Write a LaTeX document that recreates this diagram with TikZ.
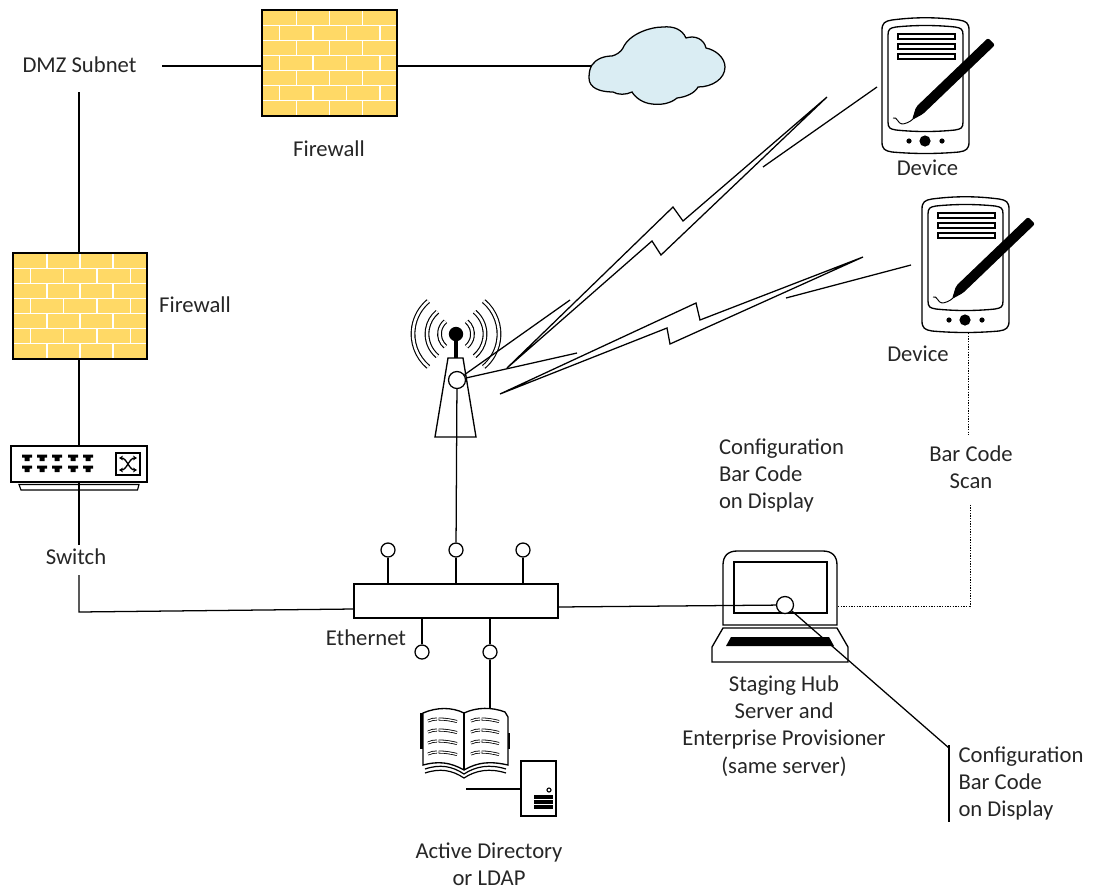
\documentclass[tikz,border=0pt]{standalone}
\usepackage{fontspec}
\setmainfont{Carlito}
\usetikzlibrary{arrows.meta}
\definecolor{brick}{HTML}{FFD966}
\definecolor{cloudblue}{HTML}{DAEDF3}
\tikzset{
  ln/.style={draw=black,line width=0.95pt},
  lbl/.style={font=\fontsize{17}{20.4}\selectfont,text=black!85,inner sep=0pt,align=center},
  lbll/.style={lbl,align=left},
  port/.style={circle,draw=black,line width=0.95pt,fill=white,inner sep=0pt,minimum size=10.5pt},
  bigport/.style={port,minimum size=12.75pt},
  wave/.style={draw=black,line width=0.85pt,double=white,double distance=1.9pt},
  fw/.style={rectangle,draw=black,line width=1.1pt,fill=brick,inner sep=0pt},
  dot/.style={draw=black,line width=0.75pt,dash pattern=on 1pt off 1pt},
  thinbox/.style={draw=black,line width=0.85pt},
}
\newcommand{\bricks}[4]{% x0 y0 w h
  \foreach \r in {1,...,6}{
    \draw[white,line width=0.95pt] (#1,{#2+#4*\r/7}) -- ({#1+#3},{#2+#4*\r/7});}
  \foreach \r in {0,2,4,6}{
    \foreach \f in {.254,.5,.746}{
      \draw[white,line width=0.95pt] ({#1+#3*\f},{#2+#4*\r/7}) -- ({#1+#3*\f},{#2+#4*(\r+1)/7});}}
  \foreach \r in {1,3,5}{
    \foreach \f in {.13,.378,.627,.875}{
      \draw[white,line width=0.95pt] ({#1+#3*\f},{#2+#4*\r/7}) -- ({#1+#3*\f},{#2+#4*(\r+1)/7});}}
}
\newcommand{\devicepic}[2]{%
\begin{scope}[shift={(#1,#2)}]
  \draw[thinbox,line width=1pt] (882,30) .. controls (882,23) and (885,21) .. (892,20) .. controls (915,17) and (936,17) .. (959,20) .. controls (966,21) and (969,23) .. (969,30) -- (969,142) .. controls (969,149) and (966,151) .. (959,152) .. controls (936,154) and (915,154) .. (892,152) .. controls (885,151) and (882,149) .. (882,142) -- cycle;
  \draw[thinbox,line width=1pt] (888,35) .. controls (888,29) and (890,28) .. (896,27) .. controls (915,25) and (936,25) .. (955,27) .. controls (961,28) and (963,29) .. (963,35) -- (963,122) .. controls (963,128) and (961,129) .. (955,130) .. controls (936,132) and (915,132) .. (896,130) .. controls (890,129) and (888,128) .. (888,122) -- cycle;
  \foreach \yy in {34,44,54}{\draw[thinbox] (898,\yy) rectangle (955,\yy+5);}
  \fill[black,rounded corners=1.5pt] (988,38) -- (995,45) -- (923,114) -- (912,120) -- (916,107) -- cycle;
  \draw[black,line width=0.7pt] (893,118) .. controls (897,116) and (898,124) .. (902,124) .. controls (905,124) and (910,122) .. (913,119);
  \fill (909,141) circle (2.6);
  \fill (925,141) circle (5.6);
  \fill (942,141) circle (2.6);
\end{scope}}
\begin{document}
\begin{tikzpicture}[x=0.75pt,y=-0.75pt]
\useasboundingbox (0,0) rectangle (1097,890);

% --- labels
\node[lbl] (dmz) at (79.5,65) {DMZ Subnet};
\node[lbl] (fwtoplabel) at (329,149) {Firewall};
\node[lbl] (fwleftlabel) at (195,305) {Firewall};
\node[lbl] (dev1label) at (927.5,168) {Device};
\node[lbl] (dev2label) at (918,354) {Device};
\node[lbl] (switchlabel) at (76,557) {Switch};
\node[lbl] (ethlabel) at (366,638) {Ethernet};
\node[lbl] (scanlabel) at (971,467) {Bar Code\\Scan};
\node[lbll] (cfg1label) at (781.5,475.5) {Configuration\\Bar Code\\on Display};
\node[lbll] (cfg2label) at (1021,783.5) {Configuration\\Bar Code\\on Display};
\node[lbl] (hublabel) at (784,726) {Staging Hub\\Server and\\Enterprise Provisioner\\(same server)};
\node[lbl] (adlabel) at (489,864) {Active Directory\\or LDAP};

% --- firewalls
\node[fw,minimum width=101.25pt,minimum height=79.5pt] (fwtop) at (329.5,63) {};
\bricks{262}{10}{135}{106}
\draw[black,line width=1.1pt] (262,10) rectangle (397,116);
\node[fw,minimum width=100.5pt,minimum height=79.5pt] (fwleft) at (80,306) {};
\bricks{13}{253}{134}{106}
\draw[black,line width=1.1pt] (13,253) rectangle (147,359);

% --- cloud
\draw[draw=black,line width=0.95pt,fill=cloudblue] (592,65)
  .. controls (596,59) and (604,56) .. (612,56)
  .. controls (616,55) and (621,52) .. (623,48)
  .. controls (629,34) and (650,27) .. (663,27)
  .. controls (673,26) and (682,29) .. (686,38)
  .. controls (695,35) and (704,39) .. (706,48)
  .. controls (716,50) and (725,58) .. (725,67)
  .. controls (725,79) and (712,87) .. (698,87)
  .. controls (695,93) and (686,97) .. (677,98)
  .. controls (670,104) and (660,105) .. (652,104)
  .. controls (642,103) and (635,97) .. (632,92)
  .. controls (626,95) and (618,95) .. (613,92)
  .. controls (600,92) and (589,88) .. (589,78)
  .. controls (589,72) and (590,68) .. (592,65) -- cycle;
\coordinate (cloudw) at (591,66);

% --- switch
\node[rectangle,draw=black,line width=1pt,fill=white,inner sep=0pt,minimum width=102pt,minimum height=27pt] (switch) at (79,464) {};
\draw[thinbox] (19,484.5) -- (139,484.5) -- (137.5,490) -- (21,490) -- cycle;
\foreach \xx in {27,42,57,73,88}{\foreach \yy in {458,469}{
  \fill (\xx-5,\yy-3.5) -- (\xx+5,\yy-3.5) -- (\xx+5,\yy-0.5) -- (\xx+2.5,\yy-0.5) -- (\xx+2.5,\yy+3) -- (\xx-2.5,\yy+3) -- (\xx-2.5,\yy-0.5) -- (\xx-5,\yy-0.5) -- cycle;}}
\draw[thinbox,line width=1pt] (116,453) rectangle (140,475);
\draw[line width=1pt,{Stealth[length=3pt,width=3.6pt]}-{Stealth[length=3pt,width=3.6pt]}] (119,458) .. controls (127,458) and (129,470) .. (137,470);
\draw[line width=1pt,{Stealth[length=3pt,width=3.6pt]}-{Stealth[length=3pt,width=3.6pt]}] (119,470) .. controls (127,470) and (129,458) .. (137,458);

% --- left trunk
\coordinate (dmzr) at (162,66);
\coordinate (dmzb) at (79,92);
\coordinate (swlt) at (79,545);
\coordinate (swlb) at (79,575);
\coordinate (trunkcorner) at (79,612);
\draw[ln] (dmzr) -- (fwtop.west |- dmzr);
\draw[ln] (fwtop.east |- dmzr) -- (cloudw);
\draw[ln] (dmzb) -- (dmzb |- fwleft.north);
\draw[ln] (dmzb |- fwleft.south) -- (dmzb |- switch.north);
\draw[ln] (dmzb |- switch.south) -- (swlt);

% --- hub
\node[rectangle,draw=black,line width=1pt,fill=white,inner sep=0pt,minimum width=153pt,minimum height=25.5pt] (hub) at (456,601) {};
\node[port] (p1) at (388,550) {};
\node[port] (p2) at (456,550) {};
\node[port] (p3) at (523,550) {};
\node[port] (p4) at (422,652) {};
\node[port] (p5) at (490,652) {};
\draw[ln] (p1) -- (p1 |- hub.north);
\draw[ln] (p2) -- (p2 |- hub.north);
\draw[ln] (p3) -- (p3 |- hub.north);
\draw[ln] (p4) -- (p4 |- hub.south);
\draw[ln] (p5) -- (p5 |- hub.south);
\coordinate (hubl) at (354,609);
\coordinate (hubr) at (558,607);
\draw[ln] (swlb) -- (trunkcorner) -- (hubl);

% --- tower
\draw[thinbox,line width=1pt] (448,358) -- (463,358) -- (476,437) -- (435,437) -- cycle;
\fill (456,334) circle (7.2);
\draw[black,line width=3pt] (456,338) -- (456,358);
\foreach \rr in {43,29,16.5}{
  \draw[wave] ([shift={(130:\rr)}]456,334) arc (130:230:\rr);
  \draw[wave] ([shift={(-50:\rr)}]456,334) arc (-50:50:\rr);
}
\node[bigport] (towercirc) at (457,380) {};
\draw[ln] (towercirc) -- (p2);

% --- devices
\devicepic{0}{0}
\devicepic{40}{179}
\coordinate (d1in) at (877,87);
\coordinate (d1out) at (763,167);
\coordinate (d2in) at (911,265);
\coordinate (d2out) at (786,298);
\coordinate (t1) at (570,300);
\coordinate (t2) at (577,353);
\draw[ln] (towercirc) -- (t1);
\draw[ln] (towercirc) -- (t2);
\draw[ln] (d1out) -- (d1in);
\draw[ln] (d2out) -- (d2in);

% --- lightning bolts
\coordinate (b1a) at (507,368);
\coordinate (b1b) at (827,97);
\coordinate (b2a) at (500,394);
\coordinate (b2b) at (863,257);
\draw[ln,miter limit=2,line join=miter] (b1a) -- (673,207) -- (683,221) -- (b1b) -- (661,255) -- (652,241) -- cycle;
\draw[ln,miter limit=2,line join=miter] (b2a) -- (696,303) -- (700,320) -- (b2b) -- (670,344) -- (667,328) -- cycle;

% --- laptop
\draw[thinbox,line width=1pt] (723,625) -- (723,565) .. controls (723,556) and (728,551) .. (737,551) -- (823,551) .. controls (832,551) and (837,556) .. (837,565) -- (837,625) -- cycle;
\draw[thinbox,line width=1pt] (734,562) rectangle (827,613);
\draw[thinbox,line width=1pt] (723,628) -- (837,628) -- (848,647) -- (848,662) -- (712,662) -- (712,647) -- cycle;
\fill (731,637) -- (829,637) -- (834,646) -- (726,646) -- cycle;
\node[bigport] (lapcirc) at (785,605) {};
\coordinate (barend) at (949,748);
\coordinate (bartop) at (949,745);
\coordinate (barbot) at (949,822);
\draw[ln] (hubr) -- (lapcirc);
\draw[ln] (lapcirc) -- (barend);
\draw[ln] (bartop) -- (barbot);

% --- dotted scan link
\coordinate (lapr) at (838,606);
\coordinate (dotc) at (970,606);
\coordinate (dott) at (970,504);
\coordinate (dev2b) at (968,333);
\coordinate (dev2l) at (968,435);
\draw[dot] (lapr) -- (dotc) -- (dott);
\draw[dot] (dev2b) -- (dev2l);

% --- directory book
\coordinate (booktop) at (490,708);
\draw[ln] (p5) -- (booktop);
\fill (420,713) rectangle (424,749);
\fill (505,733) rectangle (509.5,749);
\draw[thinbox,line width=1pt,fill=white] (423,713) .. controls (437,707) and (452,707) .. (464,713) .. controls (477,707) and (492,707) .. (505,712) -- (508,717) -- (508,765) .. controls (490,761) and (478,762) .. (464,770) .. controls (450,762) and (438,761) .. (423,765) -- cycle;
\draw[thinbox,line width=1pt] (464,713) -- (464,770);
\foreach \yy in {769,773}{
  \draw[thinbox,line width=0.9pt] (425,\yy) .. controls (440,\yy-5) and (452,\yy-3) .. (464,\yy+5) .. controls (476,\yy-3) and (490,\yy-5) .. (506,\yy);}
\foreach \yy in {720,731,742,753}{
  \draw[draw=black,line width=0.6pt,double=white,double distance=1pt] (428,\yy+1) .. controls (431,\yy-0.5) and (434,\yy-1) .. (437,\yy-1);
  \draw[draw=black,line width=0.6pt,double=white,double distance=1pt] (438.5,\yy-1) .. controls (445,\yy-1) and (451,\yy) .. (457,\yy+1.5);
  \draw[draw=black,line width=0.6pt,double=white,double distance=1pt] (471,\yy+1) .. controls (474,\yy-0.5) and (477,\yy-1) .. (480,\yy-1);
  \draw[draw=black,line width=0.6pt,double=white,double distance=1pt] (481.5,\yy-1) .. controls (487,\yy-1) and (493,\yy) .. (499,\yy+1.5);
}
% --- server
\node[rectangle,draw=black,line width=1pt,fill=white,inner sep=0pt,minimum width=26.25pt,minimum height=41.25pt] (server) at (538.5,788.5) {};
\coordinate (srvl) at (466,789);
\draw[ln] (srvl) -- (server.west |- srvl);
\draw[thinbox] (549,790) circle (2);
\foreach \yy in {797,802,807}{\draw[black,line width=2.6pt] (534,\yy) -- (553,\yy);}
\end{tikzpicture}
\end{document}
